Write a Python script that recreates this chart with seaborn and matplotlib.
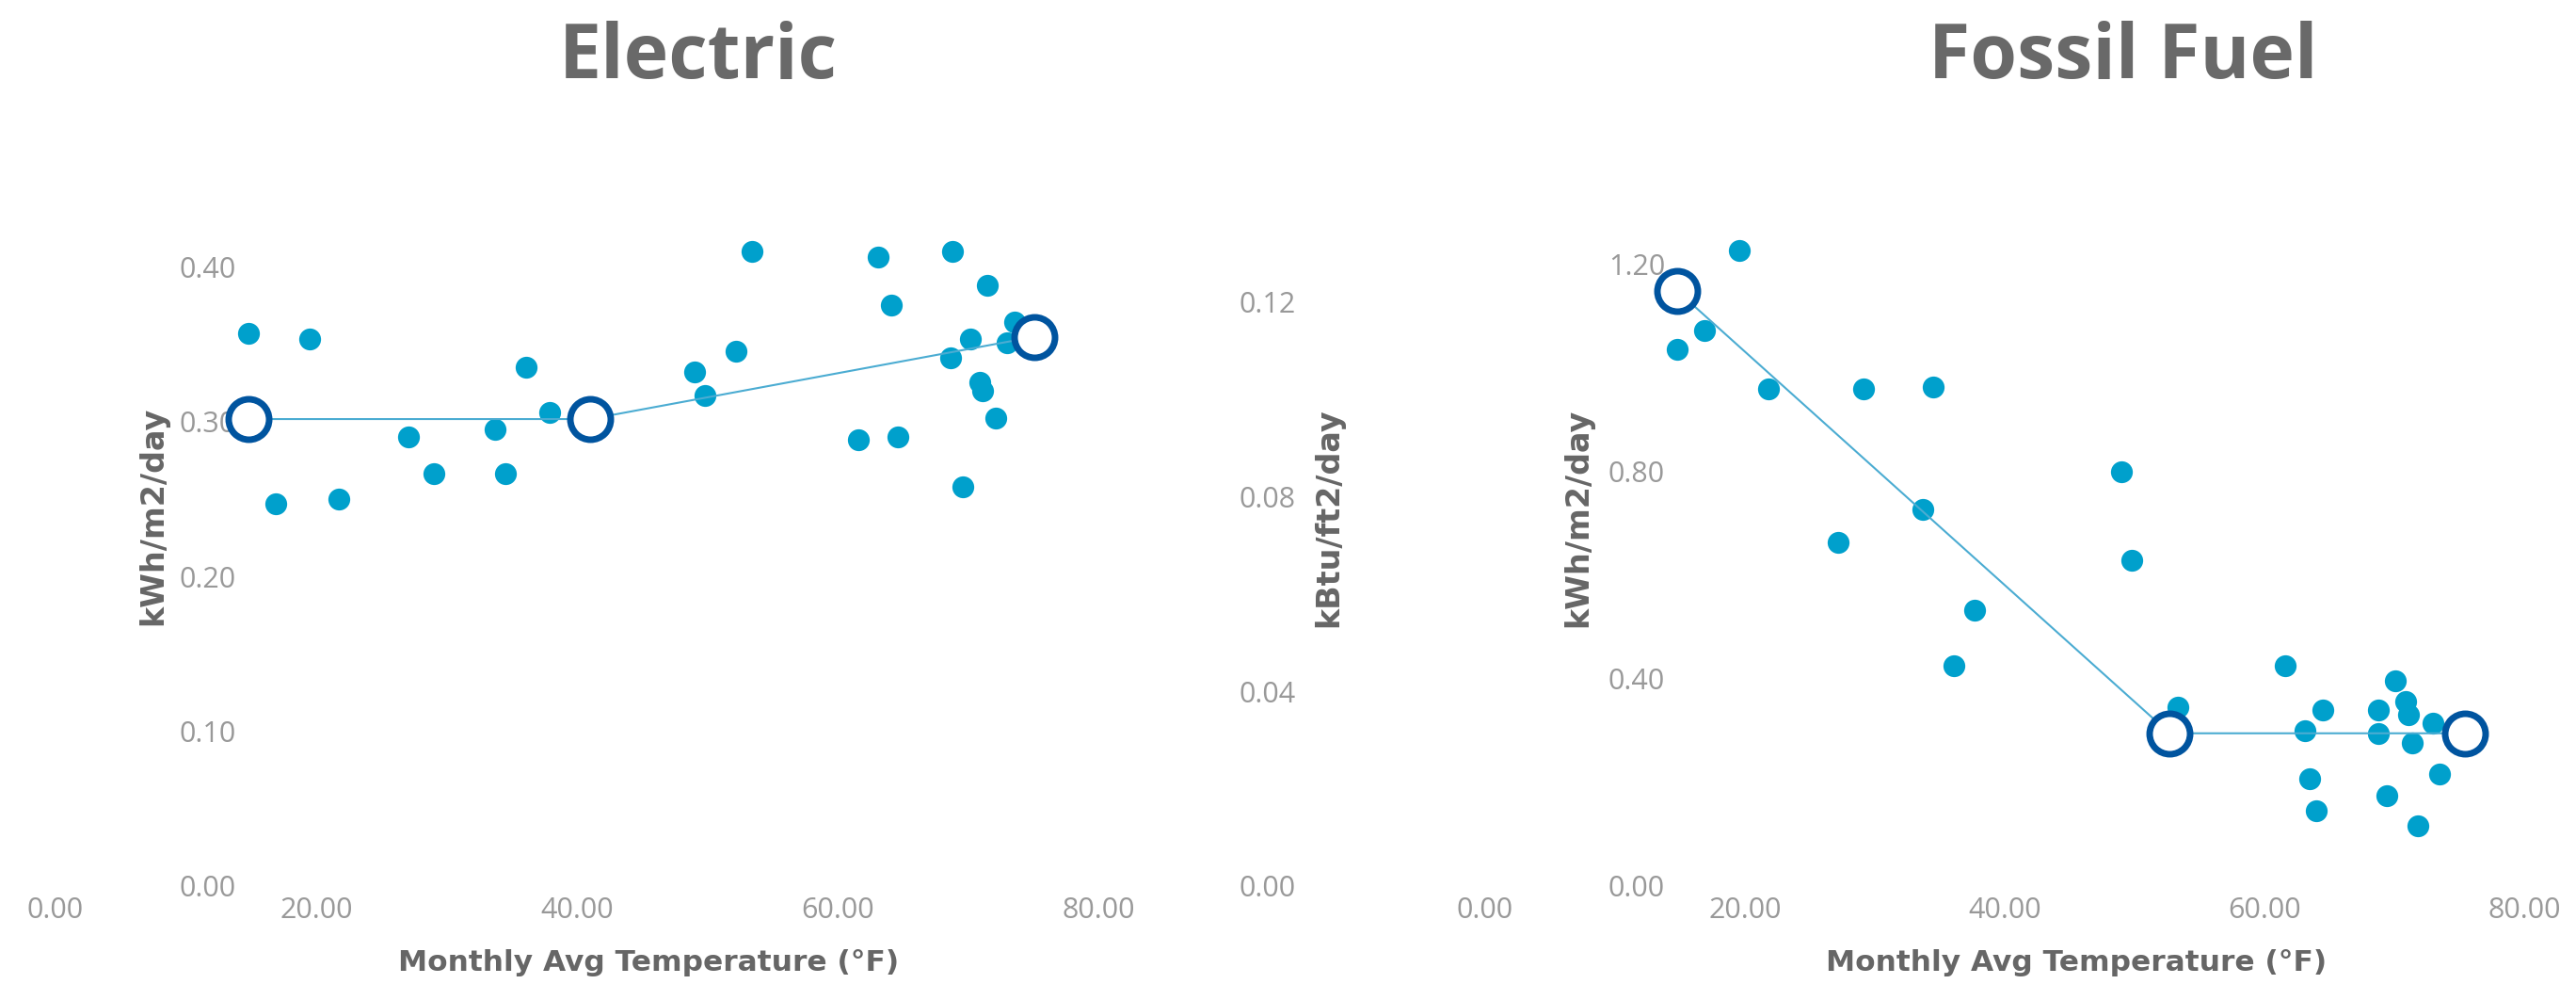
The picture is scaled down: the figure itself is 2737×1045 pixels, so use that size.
import seaborn as sns
import matplotlib.pyplot as plt

# Monthly points - Electric (kWh/m2/day)
elec_temp = [14.8, 16.9, 19.5, 21.7, 27.1, 29.0, 33.7, 34.5, 36.1, 37.9,
             49.0, 49.8, 52.2, 53.4, 61.6, 63.1, 64.1, 64.6, 68.7, 68.8,
             69.6, 70.2, 70.9, 71.1, 71.5, 72.1, 73.0, 73.6]
elec_kwh = [0.357, 0.247, 0.353, 0.250, 0.290, 0.266, 0.295, 0.266, 0.335, 0.306,
            0.332, 0.317, 0.345, 0.410, 0.288, 0.406, 0.375, 0.290, 0.341, 0.410,
            0.258, 0.353, 0.325, 0.320, 0.388, 0.302, 0.351, 0.364]

# Change-point fit - Electric
elec_fit_temp = [14.8, 41.0, 75.1]
elec_fit_kwh = [0.3015, 0.3015, 0.3546]

# Monthly points - Fossil Fuel (kWh/m2/day)
foss_temp = [19.55, 16.9, 14.8, 21.8, 29.1, 34.5, 27.2, 33.7, 49.0, 49.8,
             37.7, 36.1, 61.6, 70.1, 53.3, 64.5, 68.8, 70.9, 71.1, 73.0,
             63.1, 68.8, 71.4, 63.5, 64.0, 69.4, 73.5, 71.8]
foss_kwh = [1.227, 1.072, 1.037, 0.960, 0.960, 0.964, 0.664, 0.727, 0.800, 0.629,
            0.533, 0.426, 0.426, 0.397, 0.345, 0.340, 0.340, 0.356, 0.330, 0.314,
            0.300, 0.295, 0.276, 0.208, 0.145, 0.175, 0.217, 0.116]

# Change-point fit - Fossil Fuel
foss_fit_temp = [14.8, 52.7, 75.4]
foss_fit_kwh = [1.149, 0.295, 0.295]

x_ticks = [0, 20, 40, 60, 80]
elec_y_ticks = [0.0, 0.1, 0.2, 0.3, 0.4]
foss_y_ticks = [0.0, 0.4, 0.8, 1.2]
foss_kbtu_ticks = [0.0, 0.04, 0.08, 0.12]

DOT = "#00A0CC"
RING = "#00549F"
LINE = "#4BACD2"
TICK = "#999999"
LABEL = "#666666"
TITLE = "#696969"

sns.set_theme(style="white")
plt.rcParams["font.family"] = ["DejaVu Sans"]

W, H = 2737, 1045
fig = plt.figure(figsize=(W / 100, H / 100), dpi=100)


def box(x0, y0, x1, y1):
    return [x0 / W, 1 - y1 / H, (x1 - x0) / W, (y1 - y0) / H]


ax_e = fig.add_axes(box(59, 170, 1167, 941))
ax_f = fig.add_axes(box(1578, 170, 2682, 941))


def draw(ax, t, v, ft, fv):
    sns.scatterplot(x=t, y=v, ax=ax, s=280, color=DOT, linewidth=0, zorder=3)
    sns.lineplot(x=ft, y=fv, ax=ax, color=LINE, linewidth=1.5, sort=False,
                 estimator=None, zorder=4)
    sns.scatterplot(x=ft, y=fv, ax=ax, s=958, color="white", edgecolor=RING,
                    linewidth=5, zorder=5)
    ax.set_xlim(0, 80)
    ax.set_xticks(x_ticks)
    ax.set_xticklabels([f"{x:.2f}" for x in x_ticks])
    ax.set_xlabel("")
    ax.set_ylabel("")
    for s in ax.spines.values():
        s.set_visible(False)
    ax.spines["left"].set_position(("data", 14.2))
    ax.tick_params(axis="both", length=0, labelsize=22, labelcolor=TICK)
    ax.tick_params(axis="x", pad=8)
    for lab in ax.get_xticklabels() + ax.get_yticklabels():
        lab.set_fontfamily("Open Sans")


draw(ax_e, elec_temp, elec_kwh, elec_fit_temp, elec_fit_kwh)
ax_e.set_ylim(0, 0.4687)
ax_e.set_yticks(elec_y_ticks)
ax_e.set_yticklabels([f"{y:.2f}" for y in elec_y_ticks], fontfamily="Open Sans")

draw(ax_f, foss_temp, foss_kwh, foss_fit_temp, foss_fit_kwh)
ax_f.set_ylim(0, 1.4018)
ax_f.set_yticks(foss_y_ticks)
ax_f.set_yticklabels([f"{y:.2f}" for y in foss_y_ticks], fontfamily="Open Sans")

# secondary kBtu axis on the fossil panel
ax_b = ax_f.twinx()
ax_b.set_ylim(0, 0.149)
ax_b.yaxis.tick_left()
for s in ax_b.spines.values():
    s.set_visible(False)
ax_b.spines["left"].set_position(("axes", -0.178))
ax_b.set_yticks(foss_kbtu_ticks)
ax_b.set_yticklabels([f"{y:.2f}" for y in foss_kbtu_ticks], fontfamily="Open Sans")
ax_b.tick_params(axis="y", length=0, labelsize=22, labelcolor=TICK)

# titles and axis labels
title_kw = dict(ha="center", va="baseline", fontsize=58, fontweight="bold",
                color=TITLE, family="Open Sans")
fig.text(742 / W, 1 - 83 / H, "Electric", **title_kw)
fig.text(2256 / W, 1 - 83 / H, "Fossil Fuel", **title_kw)

xlab_kw = dict(fontsize=22.5, fontweight="bold", color=LABEL)
fig.text(689 / W, 1 - 1031 / H, "Monthly Avg Temperature (°F)",
         ha="center", va="baseline", **xlab_kw)
fig.text(2206 / W, 1 - 1031 / H, "Monthly Avg Temperature (°F)",
         ha="center", va="baseline", **xlab_kw)

ylab_kw = dict(fontsize=24, fontweight="bold", color=LABEL, rotation=90,
               ha="center", va="center")
fig.text(163 / W, 1 - 548 / H, "kWh/m2/day", **ylab_kw)
fig.text(1412 / W, 1 - 550 / H, "kBtu/ft2/day", **ylab_kw)
fig.text(1677 / W, 1 - 550 / H, "kWh/m2/day", **ylab_kw)

fig.savefig("out.png", dpi=100)
